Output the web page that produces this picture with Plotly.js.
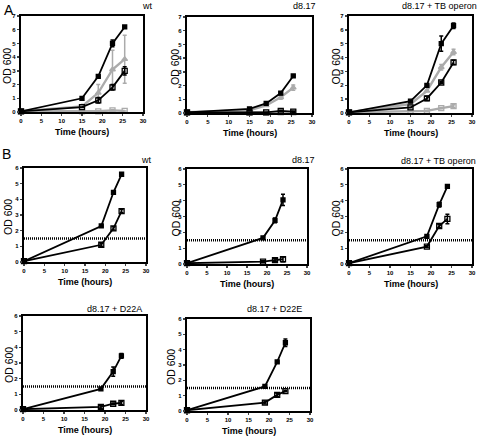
<!DOCTYPE html>
<html><head><meta charset="utf-8">
<script src="https://cdn.plot.ly/plotly-3.0.1.min.js"></script>
<style>html,body{margin:0;padding:0;background:#fff}#g{width:480px;height:437px}</style>
</head><body><div id="g"></div>
<script>
// ---- Data ----
const timeA = [0, 15, 19, 22.5, 25.5];
const timeB = [0, 19, 22, 24];

// Panel A: wt
const aWtFilled = [0.05, 1.0, 2.6, 5.0, 6.2];
const aWtFilledErr = [0, 0, 0, 0.25, 0];
const aWtGrayTri = [0.05, 0.4, 1.4, 3.1, 3.85];
const aWtGrayTriErr = [0, 0, 0.6, 1.4, 1.75];
const aWtOpen = [0.05, 0.35, 0.85, 1.8, 3.0];
const aWtOpenErr = [0, 0, 0.2, 0.2, 0.3];
const aWtGrayOpen = [0.05, 0.05, 0.05, 0.12, 0.08];
const aWtGrayOpenErr = [0, 0, 0, 0.05, 0];

// Panel A: d8.17
const aD8Filled = [0.05, 0.3, 0.7, 1.45, 2.7];
const aD8FilledErr = [0, 0, 0, 0.1, 0.05];
const aD8GrayTri = [0.05, 0.2, 0.55, 1.15, 1.85];
const aD8GrayTriErr = [0, 0, 0.05, 0.15, 0.2];
const aD8Open = [0.05, 0.05, 0.05, 0.15, 0.1];
const aD8OpenErr = [0, 0, 0, 0.05, 0.05];
const aD8GrayOpen = [0.03, 0.03, 0.03, 0.05, 0.05];
const aD8GrayOpenErr = [0, 0, 0, 0, 0];

// Panel A: d8.17 + TB operon
const aTbFilled = [0.05, 0.85, 2.0, 5.0, 6.3];
const aTbFilledErr = [0, 0, 0, 0.55, 0.2];
const aTbGrayTri = [0.05, 0.65, 1.6, 3.3, 4.4];
const aTbGrayTriErr = [0, 0, 0.05, 0.2, 0.2];
const aTbOpen = [0.05, 0.4, 1.05, 2.2, 3.65];
const aTbOpenErr = [0, 0, 0.15, 0.05, 0.15];
const aTbGrayOpen = [0.05, 0.1, 0.15, 0.35, 0.5];
const aTbGrayOpenErr = [0, 0, 0.05, 0.05, 0.1];

// Panel B
const bWtFilled = [0.05, 2.3, 4.45, 5.6];
const bWtFilledErr = [0, 0, 0.05, 0.05];
const bWtOpen = [0.05, 1.1, 2.15, 3.25];
const bWtOpenErr = [0, 0.1, 0.1, 0.1];

const bD8Filled = [0.05, 1.65, 2.75, 4.05];
const bD8FilledErr = [0, 0.05, 0.15, 0.35];
const bD8Open = [0.05, 0.15, 0.25, 0.3];
const bD8OpenErr = [0, 0.05, 0.1, 0.15];

const bTbFilled = [0.05, 1.75, 3.75, 4.9];
const bTbFilledErr = [0, 0.05, 0.15, 0.1];
const bTbOpen = [0.05, 1.1, 2.4, 2.85];
const bTbOpenErr = [0, 0.05, 0.1, 0.3];

const bD22AFilled = [0.05, 1.35, 2.45, 3.45];
const bD22AFilledErr = [0, 0.05, 0.3, 0.15];
const bD22AOpen = [0.05, 0.2, 0.4, 0.45];
const bD22AOpenErr = [0, 0.1, 0.05, 0.1];

const bD22EFilled = [0.05, 1.6, 3.2, 4.45];
const bD22EFilledErr = [0, 0.05, 0.05, 0.25];
const bD22EOpen = [0.05, 0.55, 1.05, 1.3];
const bD22EOpenErr = [0, 0.1, 0.1, 0.05];

const threshold = 1.5;
const panelTitles = ['wt', 'd8.17', 'd8.17 + TB operon', 'wt', 'd8.17', 'd8.17 + TB operon', 'd8.17 + D22A', 'd8.17 + D22E'];

// ---- Styles ----
const BLACK = '#000', GRAY = '#ababab';
const styles = {
  filled: {color: BLACK, symbol: 'square', lw: 1.8, fill: BLACK, size: 4},
  grayTri: {color: GRAY, symbol: 'triangle-up', lw: 2.4, fill: GRAY, size: 5},
  open: {color: BLACK, symbol: 'square-open', lw: 1.8, fill: BLACK, size: 5},
  grayOpen: {color: GRAY, symbol: 'square-open', lw: 2.4, fill: GRAY, size: 5}
};

function tr(x, y, err, st, ax) {
  const s = styles[st];
  return {
    type: 'scatter', mode: 'lines+markers', x: x, y: y, xaxis: 'x' + ax, yaxis: 'y' + ax,
    line: {color: s.color, width: s.lw},
    marker: {symbol: s.symbol, size: s.size, color: s.fill, line: {color: s.color, width: 1.3}},
    error_y: {type: 'data', array: err, visible: true, color: s.color, thickness: 1.5, width: 2},
    cliponaxis: false, showlegend: false, hoverinfo: 'skip'
  };
}

const traces = [
  tr(timeA, aWtGrayOpen, aWtGrayOpenErr, 'grayOpen', ''),
  tr(timeA, aWtGrayTri, aWtGrayTriErr, 'grayTri', ''),
  tr(timeA, aWtOpen, aWtOpenErr, 'open', ''),
  tr(timeA, aWtFilled, aWtFilledErr, 'filled', ''),
  tr(timeA, aD8GrayOpen, aD8GrayOpenErr, 'grayOpen', '2'),
  tr(timeA, aD8GrayTri, aD8GrayTriErr, 'grayTri', '2'),
  tr(timeA, aD8Open, aD8OpenErr, 'open', '2'),
  tr(timeA, aD8Filled, aD8FilledErr, 'filled', '2'),
  tr(timeA, aTbGrayOpen, aTbGrayOpenErr, 'grayOpen', '3'),
  tr(timeA, aTbGrayTri, aTbGrayTriErr, 'grayTri', '3'),
  tr(timeA, aTbOpen, aTbOpenErr, 'open', '3'),
  tr(timeA, aTbFilled, aTbFilledErr, 'filled', '3'),
  tr(timeB, bWtOpen, bWtOpenErr, 'open', '4'),
  tr(timeB, bWtFilled, bWtFilledErr, 'filled', '4'),
  tr(timeB, bD8Open, bD8OpenErr, 'open', '5'),
  tr(timeB, bD8Filled, bD8FilledErr, 'filled', '5'),
  tr(timeB, bTbOpen, bTbOpenErr, 'open', '6'),
  tr(timeB, bTbFilled, bTbFilledErr, 'filled', '6'),
  tr(timeB, bD22AOpen, bD22AOpenErr, 'open', '7'),
  tr(timeB, bD22AFilled, bD22AFilledErr, 'filled', '7'),
  tr(timeB, bD22EOpen, bD22EOpenErr, 'open', '8'),
  tr(timeB, bD22EFilled, bD22EFilledErr, 'filled', '8')
];

const W = 480, H = 437;
// pixel boxes: [left, right, top, bottom]
const boxes = [
  [21, 143, 16, 112], [187, 312, 17, 113], [349, 472, 16, 113],
  [24, 146, 168, 262], [187, 307, 169, 264], [349, 472, 169, 264],
  [23, 146, 316, 410], [187, 310, 319, 411]
];
const yMax = [7, 7, 7, 6, 6, 6, 6, 6];
const titlePos = [[155, 6], [318, 6], [479, 6], [154, 160], [317, 160], [478, 161], [144, 309], [304, 309]];
const yTitleX = [7, 175, 335, 8, 175, 335, 9, 171];
const FONT = 'Liberation Sans, Arial, sans-serif';

const layout = {
  width: W, height: H, margin: {l: 0, r: 0, t: 0, b: 0},
  paper_bgcolor: '#fff', plot_bgcolor: '#fff', showlegend: false,
  font: {family: FONT, color: '#000'},
  annotations: [], shapes: []
};

boxes.forEach((b, i) => {
  const n = i === 0 ? '' : String(i + 1);
  const xa = 'xaxis' + n, ya = 'yaxis' + n;
  const common = {
    showgrid: false, zeroline: false, showline: true, mirror: true,
    linecolor: '#000', linewidth: 1.7, ticks: 'outside', ticklen: 2.5, tickwidth: 1.3,
    tickfont: {size: 6, family: FONT, weight: 'bold'}, fixedrange: true
  };
  layout[xa] = Object.assign({
    domain: [b[0] / W, b[1] / W], range: [0, 30], dtick: 5, tick0: 0, anchor: 'y' + n
  }, common);
  layout[ya] = Object.assign({
    domain: [1 - b[3] / H, 1 - b[2] / H], range: [0, yMax[i]], dtick: 1, tick0: 0, anchor: 'x' + n
  }, common);
  layout.annotations.push({
    text: panelTitles[i], xref: 'paper', yref: 'paper',
    x: titlePos[i][0] / W, y: 1 - titlePos[i][1] / H, xanchor: 'right', yanchor: 'middle',
    showarrow: false, font: {size: 9, family: FONT}
  });
  layout.annotations.push({
    text: 'OD 600', xref: 'paper', yref: 'paper', textangle: -90,
    x: yTitleX[i] / W, y: 1 - ((b[2] + b[3]) / 2 + 2) / H, xanchor: 'center', yanchor: 'middle',
    showarrow: false, font: {size: 10.5, family: FONT}
  });
  layout.annotations.push({
    text: '<b>Time (hours)</b>', xref: 'paper', yref: 'paper',
    x: ((b[0] + b[1]) / 2) / W, y: 1 - (b[3] + 20) / H, xanchor: 'center', yanchor: 'middle',
    showarrow: false, font: {size: 9, family: FONT}
  });
  if (i >= 3) {
    layout.shapes.push({
      type: 'line', xref: 'x' + n, yref: 'y' + n, x0: 0, x1: 30, y0: threshold, y1: threshold,
      line: {color: '#000', width: 2.4, dash: '1px,1px'}
    });
  }
});

layout.annotations.push({text: 'A', xref: 'paper', yref: 'paper', x: 2 / W, y: 1, xanchor: 'left', yanchor: 'top',
  showarrow: false, font: {size: 14, family: FONT}});
layout.annotations.push({text: 'B', xref: 'paper', yref: 'paper', x: 0, y: 1 - 144 / H, xanchor: 'left', yanchor: 'top',
  showarrow: false, font: {size: 14, family: FONT}});

Plotly.newPlot('g', traces, layout, {staticPlot: true, displayModeBar: false});
</script>
</body></html>
